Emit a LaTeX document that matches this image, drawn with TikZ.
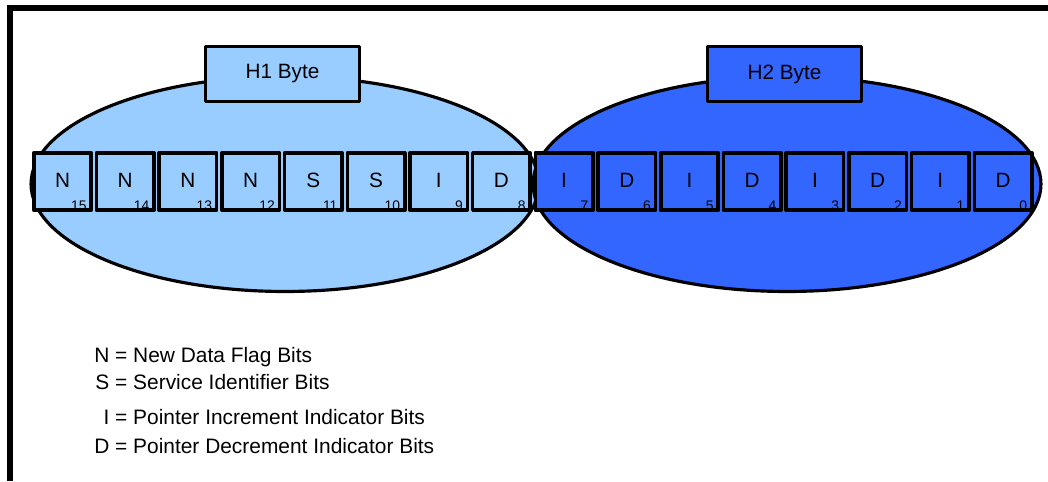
\documentclass[tikz,border=0pt]{standalone}
\usepackage{fontspec}
\setmainfont{Liberation Sans}
\usepackage{xcolor}
\usetikzlibrary{shapes.geometric}
\definecolor{hlight}{HTML}{99CCFF}
\definecolor{hdark}{HTML}{3366FF}

\begin{document}
\begin{tikzpicture}[
  x=0.02cm, y=-0.02cm,
  byteoval/.style={
    ellipse, draw=black, line width=1.8pt, inner sep=0pt,
    minimum width=10.16cm, minimum height=4.3cm
  },
  bytebox/.style={
    draw=black, line width=2pt, line join=round, inner sep=0pt,
    minimum width=3.08cm, minimum height=1.1cm,
    font=\fontsize{11.8}{14}\selectfont
  },
  bitbox/.style={
    draw=black, line width=2pt, line join=round, inner sep=0pt,
    minimum width=1.15cm, minimum height=1.15cm,
    font=\fontsize{11.8}{14}\selectfont
  },
  bitnum/.style={anchor=base east, inner sep=0pt, font=\fontsize{7.9}{9}\selectfont},
  legline/.style={anchor=base west, inner sep=0pt, font=\fontsize{11.9}{14}\selectfont}
]
  \useasboundingbox (0,0) rectangle (1048,481);

  % frame
  \draw[line width=0.12cm] (10,481) -- (10,8) -- (1048,8);

  % byte ovals and their titles
  \node[byteoval, fill=hlight] (h1oval) at (285,184) {};
  \node[byteoval, fill=hdark]  (h2oval) at (787,184) {};
  \node[bytebox, fill=hlight] (h1) at (282.5,74) {H1 Byte};
  \node[bytebox, fill=hdark]  (h2) at (784.5,74) {H2 Byte};

  % bit cells
  \foreach \k/\c in {0/N,1/N,2/N,3/N,4/S,5/S,6/I,7/D,8/I,9/D,10/I,11/D,12/I,13/D,14/I,15/D}{
    \pgfmathtruncatemacro\n{15-\k}
    \ifnum\k<8 \def\bitfill{hlight}\else\def\bitfill{hdark}\fi
    \node[bitbox, fill=\bitfill] (b\n) at (62.5+62.7*\k,181.5) {\raisebox{1pt}{\c}};
    \node[bitnum] (n\n) at ([shift={(-6,-2)}]b\n.south east) {\n};
  }

  % legend
  \node[legline] (legN) at (94,362) {\makebox[0.72em][r]{N} = New Data Flag Bits};
  \node[legline] (legS) at (94,389) {\makebox[0.72em][r]{S} = Service Identifier Bits};
  \node[legline] (legI) at (94,424) {\makebox[0.72em][r]{I} = Pointer Increment Indicator Bits};
  \node[legline] (legD) at (94,453) {\makebox[0.72em][r]{D} = Pointer Decrement Indicator Bits};
\end{tikzpicture}
\end{document}
